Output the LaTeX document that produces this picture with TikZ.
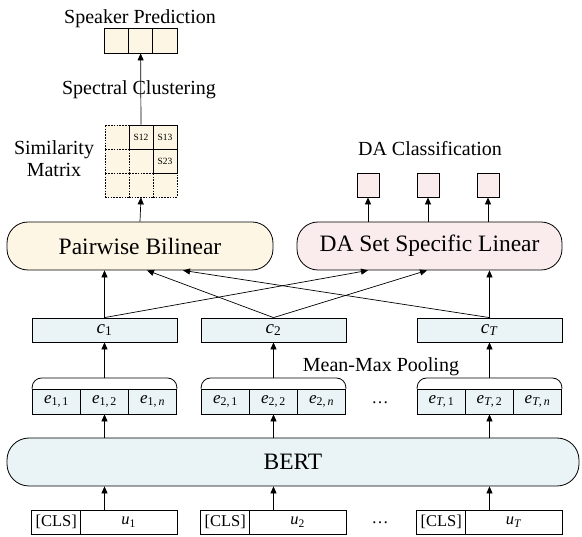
\documentclass[tikz,border=0pt]{standalone}
\usepackage{fontspec}
\setmainfont{Liberation Serif}
\usetikzlibrary{arrows.meta,calc}
\definecolor{cream}{RGB}{253,246,228}
\definecolor{pinkish}{RGB}{250,236,236}
\definecolor{bluish}{RGB}{234,244,247}
\begin{document}
\begin{tikzpicture}[x=1pt,y=-1pt,
  line width=0.8pt,
  arr/.style={-{Triangle[length=7pt,width=6pt]}, line width=0.7pt},
  cell/.style={draw, inner sep=0pt, minimum width=48pt, minimum height=25pt, fill=bluish, font=\fontsize{17}{17}\selectfont},
  cbox/.style={draw, inner sep=0pt, minimum width=145pt, minimum height=24pt, fill=bluish, font=\fontsize{19}{19}\selectfont},
  ubox/.style={draw, inner sep=0pt, minimum height=24pt, fill=white, font=\fontsize{16.5}{16.5}\selectfont},
  bigbox/.style={draw, rounded corners=21pt, inner sep=0pt, minimum height=48pt, font=\fontsize{23.5}{23.5}\selectfont},
  lbl/.style={anchor=base, inner sep=0pt, font=\fontsize{20}{20}\selectfont},
  mcell/.style={draw, dash pattern=on 1.6pt off 1.2pt, inner sep=0pt, minimum width=24pt, minimum height=24pt, fill=cream},
  scell/.style={draw, solid, inner sep=0pt, minimum width=24pt, minimum height=24pt, font=\fontsize{9.5}{9.5}\selectfont},
  spbox/.style={draw, inner sep=0pt, minimum width=24.3pt, minimum height=25pt, fill=cream},
  dabox/.style={draw, inner sep=0pt, minimum width=22pt, minimum height=24pt, fill=pinkish},
  dots/.style={inner sep=0pt, font=\fontsize{17}{17}\selectfont}
]
\useasboundingbox (0,0) rectangle (582,537);

% ---- top: speaker prediction
\node[lbl] (tsp) at (140,23.5) {Speaker Prediction};
\node[spbox] (sp1) at (116.3,40.5) {};
\node[spbox] (sp2) at (140.6,40.5) {};
\node[spbox] (sp3) at (164.9,40.5) {};
\node[lbl] (tsc) at (139,95) {Spectral Clustering};

% ---- similarity matrix
\foreach \r in {1,2,3}{
  \foreach \c in {1,2,3}{
    \node[mcell] (m\r\c) at (105+24*\c-12,125+24*\r-12) {};
  }
}
\node[scell] (s12) at (m12) {S12};
\node[scell] (s13) at (m13) {S13};
\node[scell] (s23) at (m23) {S23};
\node[lbl] (tsm1) at (54,155) {Similarity};
\node[lbl] (tsm2) at (54,177) {Matrix};

% ---- DA classification
\node[lbl] (tda) at (430,156) {DA Classification};
\node[dabox] (d1) at (368,185) {};
\node[dabox] (d2) at (428,185) {};
\node[dabox] (d3) at (488,185) {};

% ---- big boxes
\node[bigbox, fill=cream, minimum width=266pt] (pb) at (140,246) {Pairwise Bilinear};
\node[bigbox, fill=pinkish, minimum width=265pt] (da) at (429.5,246) {DA Set Specific Linear};

% ---- c boxes
\node[cbox] (c1) at (104.5,330) {\textit{c}\textsubscript{1}};
\node[cbox] (c2) at (273.5,330) {\textit{c}\textsubscript{2}};
\node[cbox] (cT) at (489.5,330) {\textit{c}\textsubscript{\textit{T}}};

\node[lbl] (tmm) at (381,372) {Mean-Max Pooling};

% ---- e rows
\foreach \g/\X/\s in {1/104.5/1, 2/273.5/2, T/489.5/{\textit{T}}}{
  \node[cell] (e\g1) at (\X-48,401.5) {\textit{e}\textsubscript{\s,\,1}};
  \node[cell] (e\g2) at (\X,401.5) {\textit{e}\textsubscript{\s,\,2}};
  \node[cell] (e\g3) at (\X+48,401.5) {\textit{e}\textsubscript{\s,\,\textit{n}}};
  \coordinate (br\g) at (\X,378);
  \draw[rounded corners=9pt] (e\g1.north west) -- (\X-72,378) -- (\X+72,378) -- (e\g3.north east);
  \node[ubox, minimum width=49pt] (cls\g) at (\X-48.25,522) {[CLS]};
}
\node[ubox, minimum width=96.5pt] (u1) at (104.5+24.25,522) {\textit{u}\textsubscript{1}};
\node[ubox, minimum width=96.5pt] (u2) at (273.5+24.25,522) {\textit{u}\textsubscript{2}};
\node[ubox, minimum width=96.5pt] (uT) at (489.5+24.25,522) {\textit{u}\textsubscript{\textit{T}}};

\node[dots] (dd1) at (380,403) {\dots};
\node[dots] (dd2) at (380,523) {\dots};

% ---- BERT
\node[bigbox, fill=bluish, minimum width=572pt, rounded corners=22pt] (bert) at (293,462) {BERT};

% ---- arrows
\draw[arr] (m12.north) -- (sp2.south);
\draw[arr] (pb.north) -- (m32.south);
\foreach \d in {d1,d2,d3}{ \draw[arr] (\d |- da.north) -- (\d.south); }

\coordinate (pbin2) at ([xshift=7pt]pb.south);
\coordinate (pbinT) at ([xshift=43pt]pb.south);
\coordinate (dain1) at ([xshift=-61.5pt]da.south);
\coordinate (dain2) at ([xshift=-2.5pt]da.south);

\draw[arr] (c1.north) -- (c1.north |- pb.south);
\draw[arr] (c1.north) -- (dain1);
\draw[arr] (c2.north) -- (pbin2);
\draw[arr] (c2.north) -- (dain2);
\draw[arr] (cT.north) -- (pbinT);
\draw[arr] (cT.north) -- (cT.north |- da.south);

\foreach \g in {1,2,T}{
  \draw[arr] (br\g) -- (c\g.south);
  \draw[arr] (c\g |- bert.north) -- (e\g2.south);
  \draw[arr] (c\g |- u\g.north) -- (c\g |- bert.south);
}
\end{tikzpicture}
\end{document}
